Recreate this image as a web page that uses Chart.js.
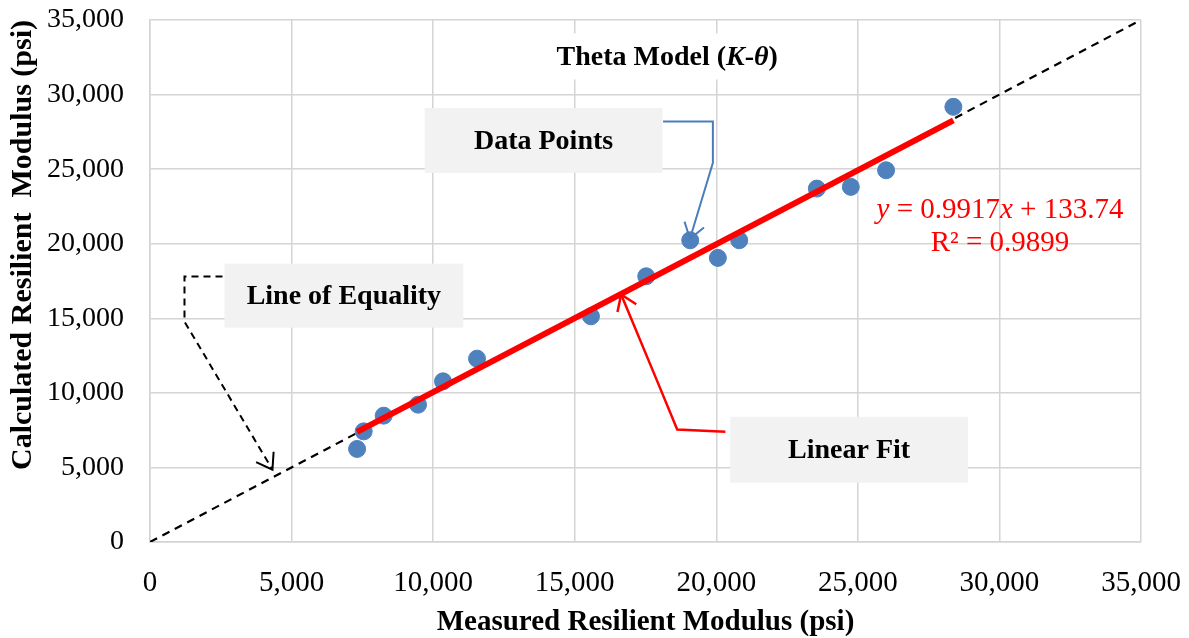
<!DOCTYPE html>
<html lang="en">
<head>
  <meta charset="UTF-8">
  <title>Theta Model (K-θ)</title>
  <script src="https://cdn.jsdelivr.net/npm/chart.js"></script>
  <style>
    body { margin: 0; background: #fff; }
    #wrap { width: 1189px; height: 638px; }
  </style>
</head>
<body>
  <div id="wrap"><canvas id="thetaChart" width="1189" height="638"></canvas></div>

  <script>
    // measured vs calculated resilient modulus (psi)
    const measured = [7314, 7547, 8253, 9467, 10349, 11550, 15573, 17526, 19079, 20056, 20809, 23551, 24751, 25997, 28373];
    const calculated = [6238, 7418, 8471, 9209, 10772, 12294, 15132, 17815, 20230, 19049, 20230, 23697, 23811, 24925, 29177];

    // linear fit from the spreadsheet trendline
    const slope = 0.9917;
    const intercept = 133.74;
    const rSquared = 0.9899;

    const tickValues = [0, 5000, 10000, 15000, 20000, 25000, 30000, 35000];
    const axisMax = 35000;

    const serif = '"Liberation Serif", "Times New Roman", serif';
    const gridColor = '#D4D4D4';

    const points = measured.map((x, i) => ({ x: x, y: calculated[i] }));
    const xMin = Math.min(...measured);
    const xMax = Math.max(...measured);
    const fitLine = [xMin, xMax].map(x => ({ x: x, y: slope * x + intercept }));
    const equality = [{ x: 0, y: 0 }, { x: axisMax, y: axisMax }];

    // callout boxes and connectors, positioned in data units
    const callouts = [
      {
        text: 'Data Points', box: [9700, 24750, 18100, 29100],
        color: '#4A7EBB', dash: [], width: 2,
        path: [[18120, 28200], [19880, 28200], [19880, 25430], [19070, 20330]]
      },
      {
        text: 'Line of Equality', box: [2630, 14370, 11065, 18660],
        color: '#000', dash: [7, 5], width: 2,
        path: [[2560, 17800], [1218, 17800], [1218, 14780], [4325, 4850]]
      },
      {
        text: 'Linear Fit', box: [20490, 3975, 28890, 8400],
        color: '#FF0000', dash: [], width: 2.5,
        path: [[20320, 7400], [18620, 7540], [17950, 10620], [16640, 16600]]
      }
    ];

    function fmt(v) {
      return v.toLocaleString('en-US');
    }

    // draw a line of text made of runs with their own fonts, centred on cx
    function drawRuns(ctx, runs, cx, cy, color) {
      let total = 0;
      runs.forEach(r => { ctx.font = r.font; r.w = ctx.measureText(r.t).width; total += r.w; });
      let x = cx - total / 2;
      ctx.fillStyle = color;
      ctx.textAlign = 'left';
      ctx.textBaseline = 'middle';
      runs.forEach(r => { ctx.font = r.font; ctx.fillText(r.t, x, cy); x += r.w; });
      return total;
    }

    function arrowHead(ctx, from, to, len) {
      const a = Math.atan2(to[1] - from[1], to[0] - from[0]);
      ctx.setLineDash([]);
      ctx.beginPath();
      ctx.moveTo(to[0] - len * Math.cos(a - 0.6), to[1] - len * Math.sin(a - 0.6));
      ctx.lineTo(to[0], to[1]);
      ctx.lineTo(to[0] - len * Math.cos(a + 0.6), to[1] - len * Math.sin(a + 0.6));
      ctx.stroke();
    }

    const calloutPlugin = {
      id: 'callouts',
      afterDraw(chart) {
        const ctx = chart.ctx;
        const xs = chart.scales.x;
        const ys = chart.scales.y;
        const px = v => xs.getPixelForValue(v);
        const py = v => ys.getPixelForValue(v);
        ctx.save();

        // chart title on a white patch
        const bold = 'bold 28px ' + serif;
        const boldItalic = 'italic bold 28px ' + serif;
        const tx = px(18265), ty = py(32490);
        ctx.font = bold;
        ctx.fillStyle = '#fff';
        ctx.fillRect(tx - 128, ty - 24, 256, 46);
        drawRuns(ctx, [
          { t: 'Theta Model (', font: bold },
          { t: 'K', font: boldItalic },
          { t: '-', font: bold },
          { t: 'θ', font: boldItalic },
          { t: ')', font: bold }
        ], tx, ty, '#000');

        // boxes with connectors
        callouts.forEach(c => {
          const x0 = px(c.box[0]), y0 = py(c.box[3]);
          const x1 = px(c.box[2]), y1 = py(c.box[1]);
          ctx.fillStyle = '#F2F2F2';
          ctx.fillRect(x0, y0, x1 - x0, y1 - y0);
          drawRuns(ctx, [{ t: c.text, font: bold }], (x0 + x1) / 2, (y0 + y1) / 2 + 1, '#000');

          const pts = c.path.map(p => [px(p[0]), py(p[1])]);
          ctx.strokeStyle = c.color;
          ctx.lineWidth = c.width;
          ctx.lineJoin = 'miter';
          ctx.setLineDash(c.dash);
          ctx.beginPath();
          pts.forEach((p, i) => i ? ctx.lineTo(p[0], p[1]) : ctx.moveTo(p[0], p[1]));
          ctx.stroke();
          arrowHead(ctx, pts[pts.length - 2], pts[pts.length - 1], 18);
        });

        // trendline equation
        const reg = '29px ' + serif;
        const ital = 'italic 29px ' + serif;
        const ex = px(30020);
        drawRuns(ctx, [
          { t: 'y', font: ital },
          { t: ' = ' + slope + '', font: reg },
          { t: 'x', font: ital },
          { t: ' + ' + intercept, font: reg }
        ], ex, py(22240), '#FF0000');
        drawRuns(ctx, [{ t: 'R² = ' + rSquared, font: reg }], ex, py(20010), '#FF0000');

        ctx.restore();
      }
    };

    const ctx = document.getElementById('thetaChart').getContext('2d');
    new Chart(ctx, {
      type: 'scatter',
      data: {
        datasets: [
          {
            label: 'Linear Fit',
            data: fitLine,
            showLine: true,
            borderColor: '#FF0000',
            borderWidth: 6,
            pointRadius: 0,
            order: 0
          },
          {
            label: 'Data Points',
            data: points,
            backgroundColor: '#4F81BD',
            borderColor: '#4F81BD',
            pointRadius: 8.5,
            order: 1
          },
          {
            label: 'Line of Equality',
            data: equality,
            showLine: true,
            borderColor: '#000',
            borderWidth: 2.2,
            borderDash: [8, 6],
            pointRadius: 0,
            order: 2
          }
        ]
      },
      options: {
        responsive: false,
        animation: false,
        layout: { padding: { left: 0, top: 20, right: 48, bottom: 0 } },
        plugins: {
          legend: { display: false },
          tooltip: { enabled: false }
        },
        scales: {
          x: {
            type: 'linear',
            min: 0,
            max: axisMax,
            afterBuildTicks: s => { s.ticks = tickValues.map(v => ({ value: v })); },
            afterFit: s => { s.height = 96; s.paddingLeft = 0; s.paddingRight = 0; },
            grid: { color: gridColor, lineWidth: 1.5, drawTicks: false },
            border: { color: gridColor, width: 1.5 },
            ticks: {
              padding: 24,
              color: '#000',
              font: { family: serif, size: 29 },
              callback: v => fmt(v)
            },
            title: {
              display: true,
              text: 'Measured Resilient Modulus (psi)',
              color: '#000',
              font: { family: serif, size: 29, weight: 'bold', lineHeight: 1 },
              padding: { top: 0, bottom: 1 }
            }
          },
          y: {
            type: 'linear',
            min: 0,
            max: axisMax,
            afterBuildTicks: s => { s.ticks = tickValues.map(v => ({ value: v })); },
            afterFit: s => { s.width = 150; s.paddingTop = 0; s.paddingBottom = 0; },
            grid: { color: gridColor, lineWidth: 1.5, drawTicks: false },
            border: { color: gridColor, width: 1.5 },
            ticks: {
              padding: 26,
              color: '#000',
              font: { family: serif, size: 28 },
              callback: v => fmt(v)
            },
            title: {
              display: true,
              align: 'end',
              text: 'Calculated Resilient  Modulus (psi)',
              color: '#000',
              font: { family: serif, size: 30, weight: 'bold', lineHeight: 1 },
              padding: { top: 8, bottom: 0 }
            }
          }
        }
      },
      plugins: [calloutPlugin]
    });
  </script>
</body>
</html>
